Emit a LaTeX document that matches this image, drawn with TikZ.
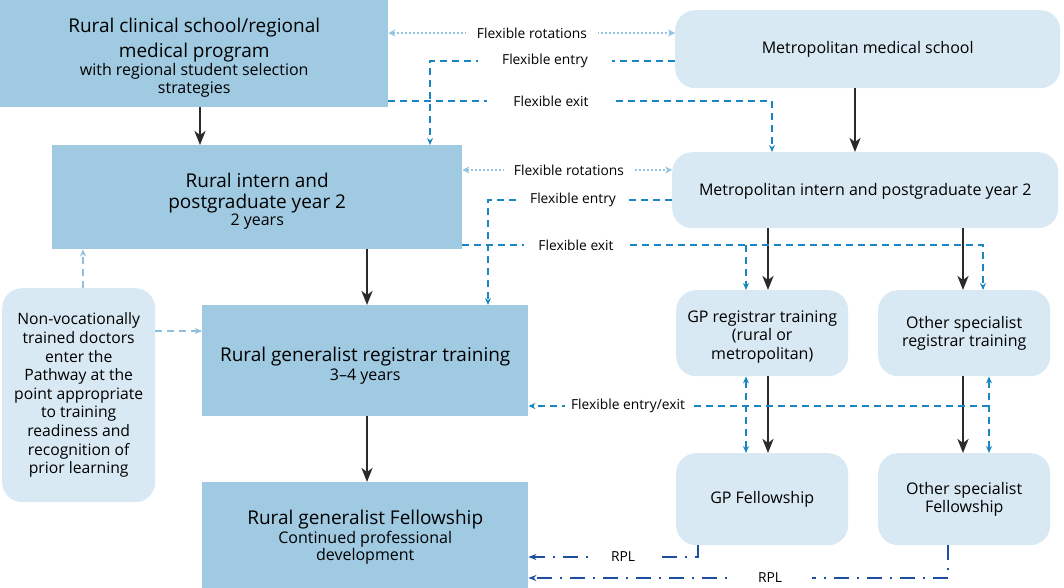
\documentclass[tikz,border=0pt]{standalone}
\usepackage{fontspec}
\setmainfont{Open Sans}
\usetikzlibrary{arrows.meta,calc}
\definecolor{boxmid}{HTML}{9FCAE2}
\definecolor{boxlight}{HTML}{D8E9F3}
\definecolor{flexblue}{HTML}{1A87C2}
\definecolor{rotblue}{HTML}{95C4E0}
\definecolor{nvblue}{HTML}{8EC0DD}
\definecolor{rplblue}{HTML}{1D4F9E}
\definecolor{darkarrow}{HTML}{2B2B2B}
\newcommand{\bigtxt}{\fontsize{19}{22}\selectfont}
\newcommand{\smalltxt}{\fontsize{16}{17.5}\selectfont}
\newcommand{\midtxt}{\fontsize{16}{18.5}\selectfont}
\newcommand{\dn}[1]{\rule{0pt}{#1}}
\begin{document}
\begin{tikzpicture}[x=1pt,y=-1pt,
  sqbox/.style={fill=boxmid, draw=none, align=center, inner sep=0pt, anchor=north west},
  rbox/.style={fill=boxlight, draw=none, rounded corners=20pt, align=center, inner sep=0pt, anchor=north west, font=\midtxt},
  mainarrow/.style={draw=darkarrow, line width=2.6pt, -{Stealth[length=14pt,width=11pt,inset=4pt]}},
  flex/.style={draw=flexblue, line width=2.2pt, dash pattern=on 7pt off 5pt},
  flextip/.style={-{Stealth[length=7pt,width=6pt]}},
  rot/.style={draw=rotblue, line width=2.2pt, dash pattern=on 2pt off 2pt, {Stealth[length=7pt,width=7pt]}-{Stealth[length=7pt,width=7pt]}},
  nv/.style={draw=nvblue, line width=2.2pt, dash pattern=on 7pt off 5pt, -{Stealth[length=7pt,width=6pt]}},
  rpl/.style={draw=rplblue, line width=2.4pt, dash pattern=on 15pt off 8pt on 2pt off 8pt, -{Stealth[length=8pt,width=6pt]}},
  lbl/.style={fill=white, inner sep=0pt, minimum height=14pt, font=\fontsize{13.8}{15}\selectfont},
]
\useasboundingbox (0,0) rectangle (1064,588);

% boxes
\node[sqbox, minimum width=388pt, minimum height=107pt] (A) at (0,0)
  {\bigtxt\dn{22.5pt}Rural clinical school/regional\\[5pt]\bigtxt medical program\\[0.5pt]\smalltxt with regional student selection\\[1pt]\smalltxt strategies};
\node[rbox, minimum width=385pt, minimum height=78pt] (B) at (675,10) {Metropolitan medical school};
\node[sqbox, minimum width=410pt, minimum height=104pt] (C) at (52,145)
  {\bigtxt\dn{22.5pt}Rural intern and\\[4.5pt]\bigtxt postgraduate year 2\\[0pt]\smalltxt 2 years};
\node[rbox, minimum width=386pt, minimum height=76pt] (D) at (672,152) {\dn{15pt}Metropolitan intern and postgraduate year 2};
\node[rbox, minimum width=153pt, minimum height=214pt, font=\fontsize{15.7}{18.6}\selectfont] (E) at (2,288)
  {Non-vocationally\\trained doctors\\enter the\\Pathway at the\\point appropriate\\to training\\readiness and\\recognition of\\prior learning};
\node[sqbox, minimum width=326pt, minimum height=111pt] (F) at (202,305)
  {\bigtxt\dn{24.5pt}Rural generalist registrar training\\[1.5pt]\smalltxt 3--4 years};
\node[rbox, minimum width=172pt, minimum height=86pt] (G) at (676,290) {\dn{18.5pt}GP registrar training\\(rural or\\metropolitan)};
\node[rbox, minimum width=172pt, minimum height=86pt] (H) at (878,290) {Other specialist\\registrar training};
\node[rbox, minimum width=172pt, minimum height=92pt] (I) at (676,453) {GP Fellowship};
\node[rbox, minimum width=172pt, minimum height=92pt] (J) at (878,453) {Other specialist\\Fellowship};
\node[sqbox, minimum width=326pt, minimum height=106pt] (K) at (202,482)
  {\bigtxt\dn{18.5pt}Rural generalist Fellowship\\[1pt]\smalltxt Continued professional\\\smalltxt development};

% main arrows
\draw[mainarrow] (A.south -| 200,0) -- (C.north -| 200,0);
\draw[mainarrow] (B.south -| 855,0) -- (D.north -| 855,0);
\draw[mainarrow] (C.south -| 367,0) -- (F.north -| 367,0);
\draw[mainarrow] (F.south -| 367,0) -- (K.north -| 367,0);
\draw[mainarrow] (D.south -| 768,0) -- (G.north -| 768,0);
\draw[mainarrow] (D.south -| 963,0) -- (H.north -| 963,0);
\draw[mainarrow] (G.south -| 768,0) -- (I.north -| 768,0);
\draw[mainarrow] (H.south -| 963,0) -- (J.north -| 963,0);

% label anchor coordinates
\coordinate (r1) at (532,33);
\coordinate (e1) at (545,61);
\coordinate (x1) at (551,101);
\coordinate (r2) at (569,170);
\coordinate (e2) at (573,200);
\coordinate (x2) at (576,245);
\coordinate (fx) at (628,406);
\coordinate (p1l) at (623,557);
\coordinate (p2l) at (770,578);
% turning points
\coordinate (e1t) at (430,61);
\coordinate (x1t) at (772,101);
\coordinate (e2t) at (488,200);
\coordinate (x2a) at (746,245);
\coordinate (x2b) at (983,245);
\coordinate (v1) at (746,406);
\coordinate (v2) at (989,406);
\coordinate (nvp) at (178,331);
\coordinate (nvu) at (83,268);
\coordinate (p1) at (698,557);
\coordinate (p2) at (948,578);

% top level flexible links
\draw[rot] (A.east |- r1) -- (B.west |- r1);
\draw[flex, flextip] (B.west |- e1) -- (e1t) -- (e1t |- C.north);
\draw[flex, flextip] (A.east |- x1) -- (x1t) -- (x1t |- D.north);
% second level
\draw[rot] (C.east |- r2) -- (D.west |- r2);
\draw[flex, flextip] (D.west |- e2) -- (e2t) -- (e2t |- F.north);
\draw[flex, flextip] (C.east |- x2) -- (x2b) -- (x2b |- H.north);
\draw[flex, flextip] (x2a) -- (x2a |- G.north);
% non-vocational
\draw[nv] (E.north -| nvu) -- (C.south -| nvu);
\draw[nv] (E.east |- nvp) -- (F.west |- nvp);
% entry/exit
\draw[flex, flextip] (v2) -- (F.east |- v2);
\draw[flex, {Stealth[length=7pt,width=6pt]}-{Stealth[length=7pt,width=6pt]}] (G.south -| v1) -- (I.north -| v1);
\draw[flex, {Stealth[length=7pt,width=6pt]}-{Stealth[length=7pt,width=6pt]}] (H.south -| v2) -- (J.north -| v2);
% RPL
\draw[rpl] (I.south -| p1) -- (p1) -- (K.east |- p1);
\draw[rpl] (J.south -| p2) -- (p2) -- (K.east |- p2);

% labels
\node[lbl, inner xsep=11pt] (lr1) at (r1) {Flexible rotations};
\node[lbl, inner xsep=24pt] (le1) at (e1) {Flexible entry};
\node[lbl, inner xsep=26pt] (lx1) at (x1) {Flexible exit};
\node[lbl, inner xsep=10pt] (lr2) at (r2) {Flexible rotations};
\node[lbl, inner xsep=11pt] (le2) at (e2) {Flexible entry};
\node[lbl, inner xsep=14pt] (lx2) at (x2) {Flexible exit};
\node[lbl, inner xsep=6pt] (lfx) at (fx) {Flexible entry/exit};
\node[lbl, inner xsep=20pt] (lp1) at (p1l) {RPL};
\node[lbl, inner xsep=30pt] (lp2) at (p2l) {RPL};
\end{tikzpicture}
\end{document}
